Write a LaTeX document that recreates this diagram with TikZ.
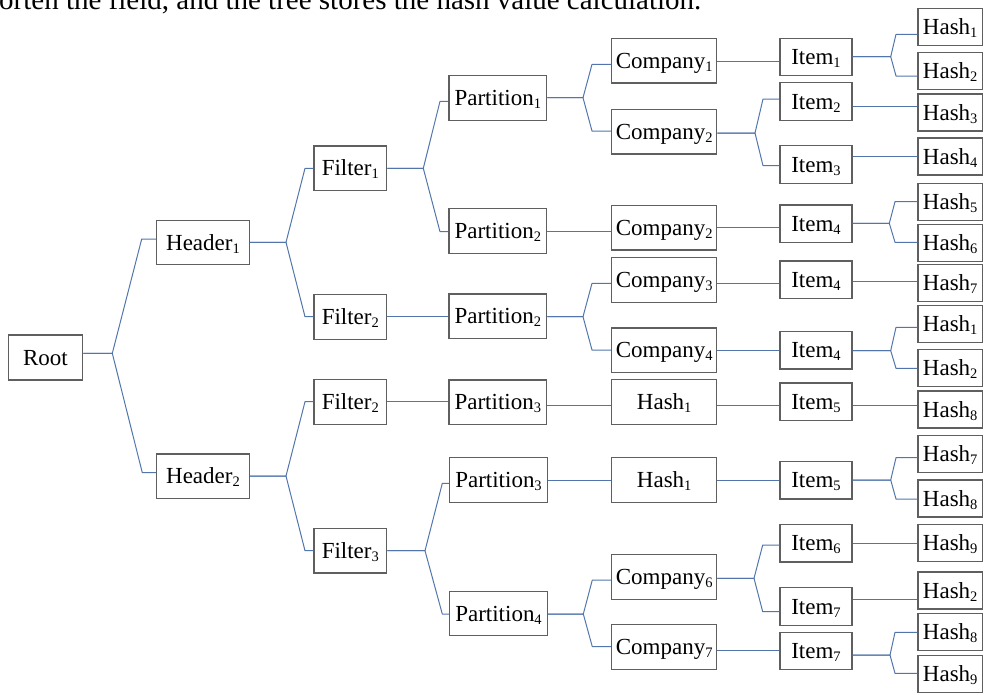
\documentclass[tikz,border=0pt]{standalone}
\usepackage{fontspec}
\setmainfont{Liberation Serif}
\definecolor{linec}{RGB}{82,118,172}
\definecolor{boxc}{RGB}{95,95,95}
\newcommand\sbs[1]{\raisebox{-3pt}{\fontsize{14.5}{14.5}\selectfont #1}}
\newcommand\hconn[3]{\draw[conn] (#1.east |- 0,#3) -- (#2.west |- 0,#3);}
\newcommand\bconn[6]{\draw[conn] (#1.east |- 0,#3) -- (#4,#3) -- (#5,#6) -- (#2.west |- 0,#6);}
\begin{document}
\begin{tikzpicture}[x=1pt,y=-1pt,
  box/.style={draw=boxc, line width=1.2pt, inner sep=0pt, font=\fontsize{23}{23}\selectfont, text height=15.2pt, text depth=0pt},
  rootbox/.style={box, minimum width=74.4pt, minimum height=45pt},
  hdr/.style={box, minimum width=92.6pt, minimum height=44.7pt},
  flt/.style={box, minimum width=72.7pt, minimum height=44.7pt},
  prt/.style={box, minimum width=97.7pt, minimum height=44.5pt},
  cmp/.style={box, minimum width=105pt, minimum height=44.8pt},
  itm/.style={box, minimum width=72pt, minimum height=37.5pt},
  hsh/.style={box, minimum width=64.5pt, minimum height=37pt},
  conn/.style={draw=linec, line width=1pt, line join=round}]
\useasboundingbox (0,0) rectangle (984,694);
\clip (0,0) rectangle (984,694);

\node[anchor=base west, inner sep=0pt, font=\fontsize{29}{29}\selectfont] (caption) at (-1,9) {orten the field, and the tree stores the hash value calculation.};

% nodes
\node[rootbox] (root) at (45.5,357.5) {Root};
\node[hdr] (h1) at (203,242.5) {Header\sbs{1}};
\node[hdr] (h2) at (203,476.3) {Header\sbs{2}};
\node[flt] (f1) at (350.3,168.3) {Filter\sbs{1}};
\node[flt] (f2a) at (350.3,316.8) {Filter\sbs{2}};
\node[flt] (f2b) at (350.3,402) {Filter\sbs{2}};
\node[flt] (f3) at (350.3,550.7) {Filter\sbs{3}};
\node[prt] (p1) at (497.8,97.9) {Partition\sbs{1}};
\node[prt] (p2a) at (497.8,231) {Partition\sbs{2}};
\node[prt] (p2b) at (497.8,316.3) {Partition\sbs{2}};
\node[prt] (p3a) at (497.8,402.2) {Partition\sbs{3}};
\node[prt] (p3b) at (498.5,480) {Partition\sbs{3}};
\node[prt] (p4) at (498.5,613.5) {Partition\sbs{4}};
\node[cmp] (c1) at (664.2,60.5) {Company\sbs{1}};
\node[cmp] (c2a) at (664.2,131.5) {Company\sbs{2}};
\node[cmp] (c2b) at (664.2,227.5) {Company\sbs{2}};
\node[cmp] (c3) at (664.2,279.7) {Company\sbs{3}};
\node[cmp] (c4) at (664.2,350.3) {Company\sbs{4}};
\node[cmp] (ha) at (664.2,402) {Hash\sbs{1}};
\node[cmp] (hb) at (664.2,480) {Hash\sbs{1}};
\node[cmp] (c6) at (664.2,576.7) {Company\sbs{6}};
\node[cmp] (c7) at (664.2,647.2) {Company\sbs{7}};
\node[itm] (i1) at (816,57) {Item\sbs{1}};
\node[itm] (i2) at (816,101.5) {Item\sbs{2}};
\node[itm] (i3) at (816,164.5) {Item\sbs{3}};
\node[itm] (i4a) at (816,223.8) {Item\sbs{4}};
\node[itm] (i4b) at (816,279.7) {Item\sbs{4}};
\node[itm] (i4c) at (816,350.3) {Item\sbs{4}};
\node[itm] (i5a) at (816,401.8) {Item\sbs{5}};
\node[itm] (i5b) at (816,480.3) {Item\sbs{5}};
\node[itm] (i6) at (816,543.3) {Item\sbs{6}};
\node[itm] (i7a) at (816,606.5) {Item\sbs{7}};
\node[itm] (i7b) at (816,651) {Item\sbs{7}};
\node[hsh] (s1) at (950.2,27) {Hash\sbs{1}};
\node[hsh] (s2) at (950.2,71.3) {Hash\sbs{2}};
\node[hsh] (s3) at (950.2,112.5) {Hash\sbs{3}};
\node[hsh] (s4) at (950.2,156.5) {Hash\sbs{4}};
\node[hsh] (s5) at (950.2,201.7) {Hash\sbs{5}};
\node[hsh] (s6) at (950.2,242.7) {Hash\sbs{6}};
\node[hsh] (s7) at (950.2,283.3) {Hash\sbs{7}};
\node[hsh] (s1b) at (950.2,324.3) {Hash\sbs{1}};
\node[hsh] (s2b) at (950.2,368.3) {Hash\sbs{2}};
\node[hsh] (s8) at (950.2,409.5) {Hash\sbs{8}};
\node[hsh] (s7b) at (950.2,454.3) {Hash\sbs{7}};
\node[hsh] (s8b) at (950.2,498.5) {Hash\sbs{8}};
\node[hsh] (s9) at (950.2,542.8) {Hash\sbs{9}};
\node[hsh] (s2c) at (950.2,590.5) {Hash\sbs{2}};
\node[hsh] (s8c) at (950.2,632.2) {Hash\sbs{8}};
\node[hsh] (s9b) at (950.2,674) {Hash\sbs{9}};

% connectors
\bconn{root}{h1}{353.3}{112.3}{141.7}{239}
\bconn{root}{h2}{353.3}{112.3}{142.3}{472.7}
\bconn{h1}{f1}{242.3}{286}{305}{168.3}
\bconn{h1}{f2a}{242.3}{286}{305}{316.7}
\bconn{h2}{f2b}{476}{286}{305}{401.7}
\bconn{h2}{f3}{476}{286}{305}{550.7}
\bconn{f1}{p1}{168.3}{423.3}{440}{101.3}
\bconn{f1}{p2a}{168.3}{423.3}{440}{231.7}
\hconn{f2a}{p2b}{316.7}
\hconn{f2b}{p3a}{401.7}
\bconn{f3}{p3b}{550.7}{425}{442.3}{483.3}
\bconn{f3}{p4}{550.7}{425}{442.3}{614}
\bconn{p1}{c1}{97.7}{583}{592}{64.3}
\bconn{p1}{c2a}{97.7}{583}{592}{131}
\hconn{p2a}{c2b}{231.5}
\bconn{p2b}{c3}{316.7}{583}{592}{283.3}
\bconn{p2b}{c4}{316.7}{583}{592}{350}
\hconn{p3a}{ha}{405.7}
\hconn{p3b}{hb}{480}
\bconn{p4}{c6}{614}{583.3}{592.3}{580}
\bconn{p4}{c7}{614}{583.3}{592.3}{646.7}
\hconn{c1}{i1}{61.7}
\bconn{c2a}{i2}{133}{755}{763}{99}
\bconn{c2a}{i3}{133}{755}{763}{165.7}
\hconn{c2b}{i4a}{227.7}
\hconn{c3}{i4b}{283}
\hconn{c4}{i4c}{350.7}
\hconn{ha}{i5a}{405.7}
\hconn{hb}{i5b}{480}
\bconn{c6}{i6}{578.3}{754}{762.7}{545}
\bconn{c6}{i7a}{578.3}{754}{762.7}{611.7}
\hconn{c7}{i7b}{650.7}
\bconn{i1}{s1}{56.7}{890.7}{896}{34.3}
\bconn{i1}{s2}{56.7}{890.7}{896}{76}
\hconn{i2}{s3}{106.7}
\hconn{i3}{s4}{156.7}
\bconn{i4a}{s5}{223.3}{889.3}{895}{201.7}
\bconn{i4a}{s6}{223.3}{889.3}{895}{242.3}
\hconn{i4b}{s7}{281.7}
\bconn{i4c}{s1b}{350.7}{890.7}{896}{327.3}
\bconn{i4c}{s2b}{350.7}{890.7}{896}{368.3}
\hconn{i5a}{s8}{405.7}
\bconn{i5b}{s7b}{480}{890.7}{896}{457.7}
\bconn{i5b}{s8b}{480}{890.7}{896}{499}
\hconn{i6}{s9}{543.3}
\hconn{i7a}{s2c}{599}
\bconn{i7b}{s8c}{655}{890}{895}{632.3}
\bconn{i7b}{s9b}{655}{890}{895}{673.3}
\end{tikzpicture}
\end{document}
